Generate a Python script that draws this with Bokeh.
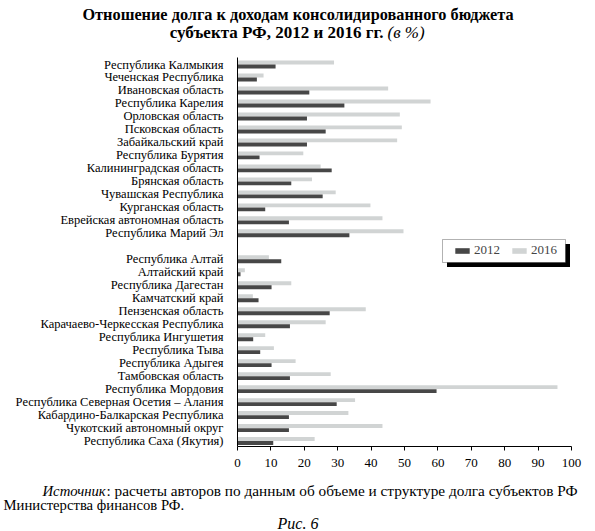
from bokeh.plotting import figure
from bokeh.layouts import column
from bokeh.models import (ColumnDataSource, Range1d, FixedTicker, Label,
                          BoxAnnotation, Legend, LegendItem)
from bokeh.embed import file_html
from bokeh.resources import INLINE

# --- данные: отношение долга к доходам, % ---
regions_a = [
    "Республика Калмыкия", "Чеченская Республика", "Ивановская область",
    "Республика Карелия", "Орловская область", "Псковская область",
    "Забайкальский край", "Республика Бурятия", "Калининградская область",
    "Брянская область", "Чувашская Республика", "Курганская область",
    "Еврейская автономная область", "Республика Марий Эл",
]
debt_2012_a = [11.4, 5.8, 21.5, 32.0, 20.8, 26.4, 20.8, 6.6, 28.2, 16.1, 25.5, 8.3, 15.4, 33.5]
debt_2016_a = [28.9, 7.8, 45.1, 57.8, 48.6, 49.2, 47.8, 19.7, 24.9, 22.3, 29.4, 39.8, 43.4, 49.7]

regions_b = [
    "Республика Алтай", "Алтайский край", "Республика Дагестан",
    "Камчатский край", "Пензенская область", "Карачаево-Черкесская Республика",
    "Республика Ингушетия", "Республика Тыва", "Республика Адыгея",
    "Тамбовская область", "Республика Мордовия",
    "Республика Северная Осетия – Алания", "Кабардино-Балкарская Республика",
    "Чукотский автономный округ", "Республика Саха (Якутия)",
]
debt_2012_b = [13.1, 0.9, 10.2, 6.3, 27.6, 15.7, 4.7, 6.8, 10.2, 15.7, 59.6, 29.7, 15.4, 15.4, 10.7]
debt_2016_b = [9.4, 2.2, 16.1, 4.6, 38.4, 26.4, 8.3, 10.9, 17.4, 27.9, 95.8, 35.2, 33.2, 43.4, 23.1]

x_ticks = [0, 10, 20, 30, 40, 50, 60, 70, 80, 90, 100]
series = ["2012", "2016"]

SERIF = "Liberation Serif"
DARK = "#474747"
LIGHT = "#d1d4d4"

W = 595
TOP_H, MAIN_H, FOOT_H = 45, 430, 56       # 45 + 430 + 56 = 531
FL, FR, FT, FB = 237, 571, 57, 446        # рамка графика в координатах страницы
Y_TOP, Y_BOT = -0.54, 29.42

# строки: две группы с пустой строкой между ними
names = regions_a + regions_b
pos = list(range(len(regions_a))) + [len(regions_a) + 1 + i for i in range(len(regions_b))]
v12 = debt_2012_a + debt_2012_b
v16 = debt_2016_a + debt_2016_b

src12 = ColumnDataSource(dict(y=[q + 0.155 for q in pos], v=v12))
src16 = ColumnDataSource(dict(y=[q - 0.155 for q in pos], v=v16))

p = figure(width=W, height=MAIN_H, x_range=Range1d(0, 100), y_range=Range1d(Y_BOT, Y_TOP),
           output_backend="svg", toolbar_location=None, frame_align=False,
           min_border_left=FL, min_border_right=W - FR,
           min_border_top=FT - TOP_H, min_border_bottom=TOP_H + MAIN_H - FB)
p.outline_line_color = None
p.grid.visible = False

r16 = p.hbar(y="y", left=0, right="v", height=0.3, source=src16,
             fill_color=LIGHT, line_color=None)
r12 = p.hbar(y="y", left=0, right="v", height=0.3, source=src12,
             fill_color=DARK, line_color=None)

# оси
xa = p.xaxis[0]
xa.ticker = FixedTicker(ticks=x_ticks)
xa.minor_tick_line_color = None
xa.major_tick_out = 4
xa.major_tick_in = 0
xa.major_label_standoff = 8
xa.axis_line_color = "black"
xa.major_tick_line_color = "black"
xa.major_label_text_font = SERIF
xa.major_label_text_font_size = "13px"
xa.major_label_text_color = "black"

ya = p.yaxis[0]
ya.ticker = FixedTicker(ticks=pos)
ya.major_label_overrides = {q: n for q, n in zip(pos, names)}
ya.minor_tick_line_color = None
ya.major_tick_line_color = None
ya.major_tick_out = 0
ya.major_tick_in = 0
ya.major_label_standoff = 14
ya.axis_line_color = "black"
ya.major_label_text_font = SERIF
ya.major_label_text_font_size = "12.5px"
ya.major_label_text_color = "black"


def xd(px):
    return (px - FL) / (FR - FL) * 100


def yd(py):
    return Y_TOP + (py - FT) / (FB - FT) * (Y_BOT - Y_TOP)


# легенда в рамке с тенью
p.add_layout(BoxAnnotation(left=xd(446.5), right=xd(569.5), top=yd(243.5), bottom=yd(266.5),
                           fill_color="black", fill_alpha=1, line_color=None))
p.add_layout(BoxAnnotation(left=xd(442), right=xd(565), top=yd(239), bottom=yd(262),
                           fill_color="white", fill_alpha=1, line_color="black", line_width=1))
legend = Legend(items=[LegendItem(label=series[0], renderers=[r12]),
                       LegendItem(label=series[1], renderers=[r16])],
                location=(216, 188), orientation="horizontal",
                background_fill_alpha=0, border_line_color=None,
                padding=0, margin=0, spacing=4, glyph_width=18, glyph_height=7,
                label_standoff=3, label_width=32, label_height=14,
                label_text_font=SERIF, label_text_font_size="13px")
p.add_layout(legend)


def text_fig(y0, h):
    # полоса для текста; координаты = пиксели страницы
    f = figure(width=W, height=h, x_range=Range1d(0, W), y_range=Range1d(y0 + h, y0),
               output_backend="svg", toolbar_location=None, frame_align=False,
               x_axis_location=None, y_axis_location=None, min_border=0)
    f.outline_line_color = None
    f.grid.visible = False
    return f


def text(f, px, py, s, size, style="normal", align="left"):
    f.add_layout(Label(x=px, y=py, text=s, text_font=SERIF, text_font_size=size,
                       text_font_style=style, text_align=align, text_baseline="middle",
                       text_color="black"))


# заголовок
top = text_fig(0, TOP_H)
text(top, 297.5, 13.5, "Отношение долга к доходам консолидированного бюджета", "16.3px", "bold", "center")
text(top, 383, 32, "субъекта РФ, 2012 и 2016 гг.", "17px", "bold", "right")
text(top, 387, 32, "(в %)", "17px", "italic", "left")

# источник и подпись
foot = text_fig(TOP_H + MAIN_H, FOOT_H)
text(foot, 42, 490, "Источник", "14.7px", "italic", "left")
text(foot, 106, 490, ": расчеты авторов по данным об объеме и структуре долга субъектов РФ", "15.3px")
text(foot, 3, 504, "Министерства финансов РФ.", "14.7px")
text(foot, 297.5, 523, "Рис. 6", "16px", "italic", "center")

layout = column(top, p, foot, spacing=0)
open("out.html", "w").write(file_html(layout, INLINE))
